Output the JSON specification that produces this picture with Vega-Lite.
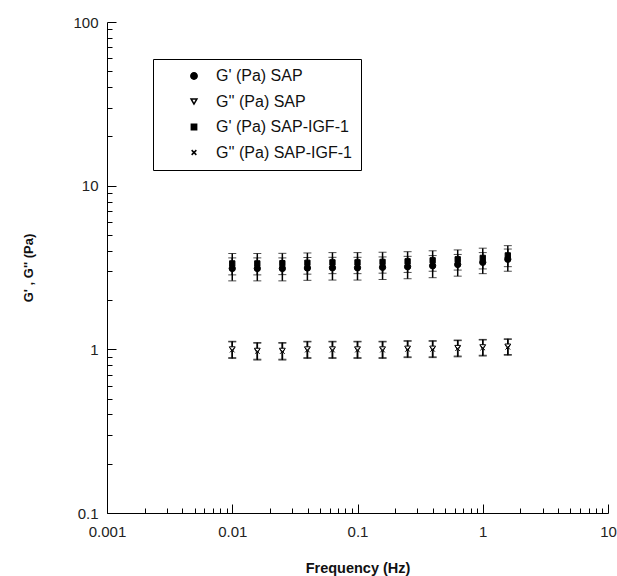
{
  "$schema": "https://vega.github.io/schema/vega-lite/v6.json",
  "width": 501,
  "height": 491,
  "autosize": {"type": "none"},
  "padding": {"left": 107, "top": 22, "right": 9, "bottom": 63},
  "background": "white",
  "config": {
    "view": {"stroke": null},
    "font": "Liberation Sans"
  },
  "data": {
    "values": [
      {"freq": 0.01, "series": "G' (Pa) SAP", "value": 3.12, "lo": 2.62, "hi": 3.62},
      {"freq": 0.01585, "series": "G' (Pa) SAP", "value": 3.12, "lo": 2.62, "hi": 3.62},
      {"freq": 0.02512, "series": "G' (Pa) SAP", "value": 3.12, "lo": 2.62, "hi": 3.62},
      {"freq": 0.03981, "series": "G' (Pa) SAP", "value": 3.14, "lo": 2.64, "hi": 3.64},
      {"freq": 0.0631, "series": "G' (Pa) SAP", "value": 3.15, "lo": 2.65, "hi": 3.65},
      {"freq": 0.1, "series": "G' (Pa) SAP", "value": 3.15, "lo": 2.65, "hi": 3.65},
      {"freq": 0.1585, "series": "G' (Pa) SAP", "value": 3.17, "lo": 2.67, "hi": 3.67},
      {"freq": 0.2512, "series": "G' (Pa) SAP", "value": 3.2, "lo": 2.7, "hi": 3.7},
      {"freq": 0.3981, "series": "G' (Pa) SAP", "value": 3.24, "lo": 2.74, "hi": 3.74},
      {"freq": 0.631, "series": "G' (Pa) SAP", "value": 3.3, "lo": 2.8, "hi": 3.8},
      {"freq": 1.0, "series": "G' (Pa) SAP", "value": 3.4, "lo": 2.9, "hi": 3.9},
      {"freq": 1.585, "series": "G' (Pa) SAP", "value": 3.55, "lo": 3.0, "hi": 4.1},
      {"freq": 0.01, "series": "G'' (Pa) SAP", "value": 1.0, "lo": 0.89, "hi": 1.12},
      {"freq": 0.01585, "series": "G'' (Pa) SAP", "value": 0.98, "lo": 0.87, "hi": 1.1},
      {"freq": 0.02512, "series": "G'' (Pa) SAP", "value": 0.98, "lo": 0.87, "hi": 1.1},
      {"freq": 0.03981, "series": "G'' (Pa) SAP", "value": 1.0, "lo": 0.89, "hi": 1.12},
      {"freq": 0.0631, "series": "G'' (Pa) SAP", "value": 1.0, "lo": 0.89, "hi": 1.12},
      {"freq": 0.1, "series": "G'' (Pa) SAP", "value": 1.0, "lo": 0.89, "hi": 1.12},
      {"freq": 0.1585, "series": "G'' (Pa) SAP", "value": 1.0, "lo": 0.89, "hi": 1.12},
      {"freq": 0.2512, "series": "G'' (Pa) SAP", "value": 1.01, "lo": 0.9, "hi": 1.13},
      {"freq": 0.3981, "series": "G'' (Pa) SAP", "value": 1.01, "lo": 0.9, "hi": 1.13},
      {"freq": 0.631, "series": "G'' (Pa) SAP", "value": 1.02, "lo": 0.91, "hi": 1.14},
      {"freq": 1.0, "series": "G'' (Pa) SAP", "value": 1.03, "lo": 0.92, "hi": 1.15},
      {"freq": 1.585, "series": "G'' (Pa) SAP", "value": 1.04, "lo": 0.93, "hi": 1.16},
      {"freq": 0.01, "series": "G' (Pa) SAP-IGF-1", "value": 3.35, "lo": 2.85, "hi": 3.85},
      {"freq": 0.01585, "series": "G' (Pa) SAP-IGF-1", "value": 3.35, "lo": 2.85, "hi": 3.85},
      {"freq": 0.02512, "series": "G' (Pa) SAP-IGF-1", "value": 3.36, "lo": 2.86, "hi": 3.86},
      {"freq": 0.03981, "series": "G' (Pa) SAP-IGF-1", "value": 3.38, "lo": 2.88, "hi": 3.88},
      {"freq": 0.0631, "series": "G' (Pa) SAP-IGF-1", "value": 3.4, "lo": 2.9, "hi": 3.9},
      {"freq": 0.1, "series": "G' (Pa) SAP-IGF-1", "value": 3.4, "lo": 2.9, "hi": 3.9},
      {"freq": 0.1585, "series": "G' (Pa) SAP-IGF-1", "value": 3.42, "lo": 2.92, "hi": 3.92},
      {"freq": 0.2512, "series": "G' (Pa) SAP-IGF-1", "value": 3.45, "lo": 2.95, "hi": 3.95},
      {"freq": 0.3981, "series": "G' (Pa) SAP-IGF-1", "value": 3.5, "lo": 3.0, "hi": 4.0},
      {"freq": 0.631, "series": "G' (Pa) SAP-IGF-1", "value": 3.55, "lo": 3.05, "hi": 4.05},
      {"freq": 1.0, "series": "G' (Pa) SAP-IGF-1", "value": 3.62, "lo": 3.1, "hi": 4.15},
      {"freq": 1.585, "series": "G' (Pa) SAP-IGF-1", "value": 3.75, "lo": 3.2, "hi": 4.3},
      {"freq": 0.01, "series": "G'' (Pa) SAP-IGF-1", "value": 0.99, "lo": 0.88, "hi": 1.11},
      {"freq": 0.01585, "series": "G'' (Pa) SAP-IGF-1", "value": 0.97, "lo": 0.86, "hi": 1.09},
      {"freq": 0.02512, "series": "G'' (Pa) SAP-IGF-1", "value": 0.97, "lo": 0.86, "hi": 1.09},
      {"freq": 0.03981, "series": "G'' (Pa) SAP-IGF-1", "value": 0.99, "lo": 0.88, "hi": 1.11},
      {"freq": 0.0631, "series": "G'' (Pa) SAP-IGF-1", "value": 0.99, "lo": 0.88, "hi": 1.11},
      {"freq": 0.1, "series": "G'' (Pa) SAP-IGF-1", "value": 0.99, "lo": 0.88, "hi": 1.11},
      {"freq": 0.1585, "series": "G'' (Pa) SAP-IGF-1", "value": 0.99, "lo": 0.88, "hi": 1.11},
      {"freq": 0.2512, "series": "G'' (Pa) SAP-IGF-1", "value": 1.0, "lo": 0.89, "hi": 1.12},
      {"freq": 0.3981, "series": "G'' (Pa) SAP-IGF-1", "value": 1.0, "lo": 0.89, "hi": 1.12},
      {"freq": 0.631, "series": "G'' (Pa) SAP-IGF-1", "value": 1.01, "lo": 0.9, "hi": 1.13},
      {"freq": 1.0, "series": "G'' (Pa) SAP-IGF-1", "value": 1.02, "lo": 0.91, "hi": 1.14},
      {"freq": 1.585, "series": "G'' (Pa) SAP-IGF-1", "value": 1.03, "lo": 0.92, "hi": 1.15}
    ]
  },
  "layer": [
    {
      "mark": {"type": "errorbar", "ticks": {"size": 8, "color": "black", "strokeWidth": 1.5}, "rule": {"color": "black", "strokeWidth": 1.5}},
      "encoding": {
        "x": {"field": "freq", "type": "quantitative", "scale": {"type": "log", "domain": [0.001, 10]}, "title": "Frequency (Hz)"},
        "y": {"field": "lo", "type": "quantitative", "scale": {"type": "log", "domain": [0.1, 100]}, "title": "G' , G'' (Pa)"},
        "y2": {"field": "hi"}
      }
    },
    {
      "mark": {"type": "point", "stroke": "black", "strokeWidth": 1, "opacity": 1},
      "encoding": {
        "x": {
          "field": "freq", "type": "quantitative",
          "scale": {"type": "log", "domain": [0.001, 10]},
          "title": "Frequency (Hz)",
          "axis": {
            "values": [0.001, 0.002, 0.003, 0.004, 0.005, 0.006, 0.007, 0.008, 0.009, 0.01, 0.02, 0.03, 0.04, 0.05, 0.06, 0.07, 0.08, 0.09, 0.1, 0.2, 0.3, 0.4, 0.5, 0.6, 0.7, 0.8, 0.9, 1, 2, 3, 4, 5, 6, 7, 8, 9, 10],
            "format": "~g",
            "labelExpr": "abs(log(datum.value)/LN10 - round(log(datum.value)/LN10)) < 0.001 ? datum.label : ''",
            "tickSize": {"condition": {"test": "abs(log(datum.value)/LN10 - round(log(datum.value)/LN10)) < 0.001", "value": -9}, "value": -5},
            "labelOverlap": false,
            "labelFlush": false,
            "grid": false,
            "domainColor": "black",
            "tickColor": "black",
            "labelFont": "Liberation Sans",
            "labelFontSize": 15,
            "labelColor": "#222222",
            "labelPadding": 20,
            "titleFont": "Liberation Sans",
            "titleFontSize": 14.5,
            "titleFontWeight": "bold",
            "titleColor": "#111111",
            "titlePadding": 18
          }
        },
        "y": {
          "field": "value", "type": "quantitative",
          "scale": {"type": "log", "domain": [0.1, 100]},
          "title": "G' , G'' (Pa)",
          "axis": {
            "values": [0.1, 0.2, 0.3, 0.4, 0.5, 0.6, 0.7, 0.8, 0.9, 1, 2, 3, 4, 5, 6, 7, 8, 9, 10, 20, 30, 40, 50, 60, 70, 80, 90, 100],
            "format": "~g",
            "labelExpr": "abs(log(datum.value)/LN10 - round(log(datum.value)/LN10)) < 0.001 ? datum.label : ''",
            "tickSize": {"condition": {"test": "abs(log(datum.value)/LN10 - round(log(datum.value)/LN10)) < 0.001", "value": -9}, "value": -5},
            "labelOverlap": false,
            "labelFlush": false,
            "grid": false,
            "domainColor": "black",
            "tickColor": "black",
            "labelFont": "Liberation Sans",
            "labelFontSize": 15,
            "labelColor": "#222222",
            "labelPadding": 18,
            "titleFont": "Liberation Sans",
            "titleFontSize": 13,
            "titleFontWeight": "bold",
            "titleColor": "#111111",
            "titlePadding": 37
          }
        },
        "shape": {
          "field": "series", "type": "nominal",
          "scale": {"domain": ["G' (Pa) SAP", "G'' (Pa) SAP", "G' (Pa) SAP-IGF-1", "G'' (Pa) SAP-IGF-1"], "range": ["circle", "triangle-down", "square", "M-1,-1L1,1M-1,1L1,-1"]},
          "legend": {
            "title": null,
            "orient": "none",
            "legendX": 46,
            "legendY": 37,
            "strokeColor": "black",
            "fillColor": "white",
            "padding": 9,
            "rowPadding": 9.5,
            "symbolOffset": 24,
            "labelOffset": 14,
            "labelFont": "Liberation Sans",
            "labelFontSize": 16,
            "labelColor": "#111111",
            "encode": {"symbols": {"update": {"stroke": {"value": "black"}, "strokeWidth": {"value": 1}}}}
          }
        },
        "fill": {
          "field": "series", "type": "nominal",
          "scale": {"domain": ["G' (Pa) SAP", "G'' (Pa) SAP", "G' (Pa) SAP-IGF-1", "G'' (Pa) SAP-IGF-1"], "range": ["black", "white", "black", "white"]},
          "legend": {
            "title": null,
            "orient": "none",
            "legendX": 46,
            "legendY": 37,
            "strokeColor": "black",
            "fillColor": "white",
            "padding": 9,
            "rowPadding": 9.5,
            "symbolOffset": 24,
            "labelOffset": 14,
            "labelFont": "Liberation Sans",
            "labelFontSize": 16,
            "labelColor": "#111111",
            "encode": {"symbols": {"update": {"stroke": {"value": "black"}, "strokeWidth": {"value": 1}}}}
          }
        },
        "size": {
          "field": "series", "type": "nominal",
          "scale": {"domain": ["G' (Pa) SAP", "G'' (Pa) SAP", "G' (Pa) SAP-IGF-1", "G'' (Pa) SAP-IGF-1"], "range": [40, 22, 40, 22]},
          "legend": {
            "title": null,
            "orient": "none",
            "legendX": 46,
            "legendY": 37,
            "strokeColor": "black",
            "fillColor": "white",
            "padding": 9,
            "rowPadding": 9.5,
            "symbolOffset": 24,
            "labelOffset": 14,
            "labelFont": "Liberation Sans",
            "labelFontSize": 16,
            "labelColor": "#111111",
            "encode": {"symbols": {"update": {"stroke": {"value": "black"}, "strokeWidth": {"value": 1}}}}
          }
        }
      }
    }
  ]
}
